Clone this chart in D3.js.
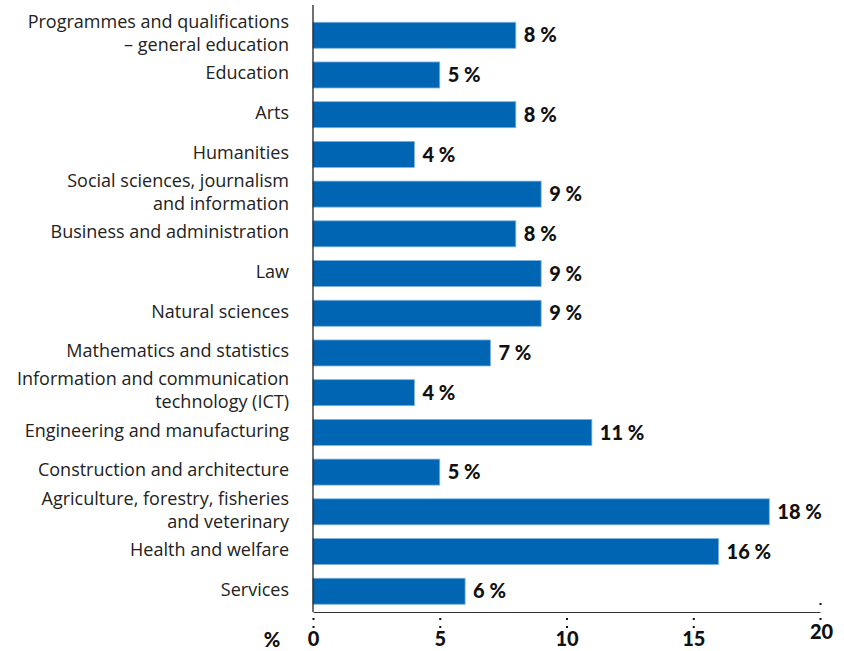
<!DOCTYPE html>
<html><head><meta charset="utf-8">
<script src="https://cdn.jsdelivr.net/npm/d3@7"></script>
<style>body{margin:0;background:#fff;}svg{display:block;}</style>
</head><body>
<svg id="chart" width="844" height="651"></svg>
<script>
const categories = [
  ["Programmes and qualifications", "– general education"],
  ["Education"],
  ["Arts"],
  ["Humanities"],
  ["Social sciences, journalism", "and information"],
  ["Business and administration"],
  ["Law"],
  ["Natural sciences"],
  ["Mathematics and statistics"],
  ["Information and communication", "technology (ICT)"],
  ["Engineering and manufacturing"],
  ["Construction and architecture"],
  ["Agriculture, forestry, fisheries", "and veterinary"],
  ["Health and welfare"],
  ["Services"]
];
const values = [8, 5, 8, 4, 9, 8, 9, 9, 7, 4, 11, 5, 18, 16, 6];
const tickValues = [0, 5, 10, 15, 20];
const axisUnit = "%";

const svg = d3.select("#chart");
const font = "Lato, 'Open Sans', sans-serif";
const catFont = "'Open Sans', Lato, sans-serif";
const x = d3.scaleLinear().domain([0, 20]).range([313, 820]);
const y = d3.scaleBand().domain(d3.range(categories.length)).range([15.5, 611]).paddingInner(0.345).paddingOuter(0.17);
const axisY = 612;

svg.selectAll("rect.bar").data(values).join("rect")
  .attr("class", "bar")
  .attr("x", x(0))
  .attr("y", (d, i) => y(i))
  .attr("width", d => x(d) - x(0))
  .attr("height", y.bandwidth())
  .attr("fill", "#0066b3")
  .attr("stroke", "#7fb2dd")
  .attr("stroke-width", 0.8);

svg.selectAll("text.val").data(values).join("text")
  .attr("class", "val")
  .attr("x", d => x(d) + 8)
  .attr("y", (d, i) => y(i) + y.bandwidth() / 2 + 2)
  .attr("dominant-baseline", "middle")
  .attr("font-family", font)
  .attr("font-weight", 900)
  .attr("font-size", 20)
  .attr("fill", "#111")
  .text(d => d + " %");

const lab = svg.selectAll("text.cat").data(categories).join("text")
  .attr("class", "cat")
  .attr("text-anchor", "end")
  .attr("font-family", catFont)
  .attr("font-size", 18)
  .attr("fill", "#222");
lab.each(function(lines, i) {
  const t = d3.select(this);
  const cy = y(i) + y.bandwidth() / 2 - 0.5;
  const lh = 23;
  lines.forEach((ln, j) => {
    t.append("tspan")
      .attr("x", 289)
      .attr("y", cy + (j - (lines.length - 1) / 2) * lh)
      .attr("dominant-baseline", "middle")
      .text(ln);
  });
});

// vertical axis line
svg.append("line").attr("x1", x(0)).attr("x2", x(0)).attr("y1", 5).attr("y2", axisY)
  .attr("stroke", "#111").attr("stroke-width", 1.2);

// horizontal axis
const xAxis = d3.axisBottom(x).tickValues(tickValues).tickSize(0).tickFormat(d3.format("d"));
const gx = svg.append("g").attr("transform", `translate(0,${axisY})`).call(xAxis);
gx.select(".domain").attr("stroke", "#333").attr("stroke-width", 1.2);
gx.selectAll(".tick text")
  .attr("font-family", font).attr("font-weight", 900).attr("font-size", 20).attr("fill", "#111")
  .attr("y", d => d === 20 ? 13 : 20)
  .attr("dx", d => d === 20 ? 1 : 0);
gx.selectAll(".tick").each(function(d) {
  const g = d3.select(this);
  const ys = d === 20 ? [-8, 7] : [7, 15];
  ys.forEach(yy => g.append("rect").attr("x", -1).attr("y", yy - 1).attr("width", 2).attr("height", 2).attr("fill", "#111"));
});

svg.append("text").attr("x", 272).attr("y", axisY + 35)
  .attr("text-anchor", "middle")
  .attr("font-family", font).attr("font-weight", 900).attr("font-size", 20).attr("fill", "#111")
  .text(axisUnit);
</script>
</body></html>
